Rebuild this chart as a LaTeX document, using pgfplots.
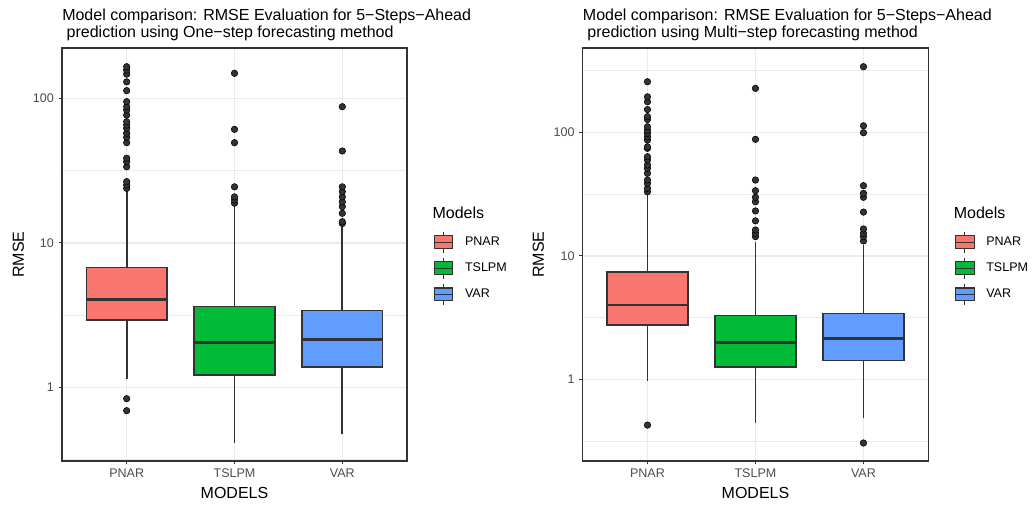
\documentclass[border=0pt]{standalone}
\usepackage{fontspec}
\setmainfont{Liberation Sans}
\usepackage{pgfplots}
\pgfplotsset{compat=1.18}
\definecolor{pnarc}{HTML}{F8766D}
\definecolor{tslpmc}{HTML}{00BA38}
\definecolor{varc}{HTML}{619CFF}
\definecolor{grey20}{HTML}{333333}
\definecolor{grey30}{HTML}{4D4D4D}
\definecolor{gridc}{HTML}{EBEBEB}

\pgfplotsset{every axis/.append style={
    scale only axis,
    clip=false,
    height=309.75pt,
    xmin=0.4, xmax=3.6,
    xtick={1,2,3}, xticklabels={PNAR,TSLPM,VAR},
    ytick={1,10,100}, yticklabels={1,10,100},
    minor ytick={0.316227766,3.16227766,31.6227766,316.227766},
    grid=both,
    major grid style={draw=gridc, line width=1.2pt},
    minor grid style={draw=gridc, line width=0.65pt},
    tick align=outside,
    xtick pos=bottom, ytick pos=left,
    major tick length=2.6pt, minor tick length=0pt,
    tick style={draw=grey20, line width=0.8pt},
    axis line style={draw=grey20, line width=0.9pt},
    ticklabel style={font=\fontsize{9.4}{11}\selectfont, text=grey30},
    xlabel={MODELS}, ylabel={RMSE},
    label style={font=\fontsize{12}{14}\selectfont, text=black},
    xlabel style={at={(axis description cs:0.5,-0.0768)}, anchor=center},
    title style={at={(axis description cs:0,1)}, anchor=base west, yshift=2pt, inner sep=0pt, align=left, font=\fontsize{12}{12.75}\selectfont},
    legend style={at={(axis description cs:1,0.5569)}, anchor=north west, xshift=20pt,
      draw=none, fill=none, inner sep=0pt, outer sep=0pt, row sep=2.75pt, column sep=8.7pt,
      font=\fontsize{9.4}{11}\selectfont, nodes={inner sep=0pt}},
    legend cell align=left,
  }}
\newcommand{\keyimg}[1]{%
  \draw[draw=grey20, line width=0.8pt] (7pt,-8pt)--(7pt,8pt);
  \draw[fill=#1, draw=grey20, line width=0.8pt] (0pt,-4.75pt) rectangle (14pt,4.75pt);
  \draw[draw=grey20, line width=0.8pt] (0pt,0pt)--(14pt,0pt);}
% left, centre, right, colour, lower whisker, lower quartile, median, upper quartile, upper whisker
\newcommand{\ggbox}[9]{%
  \addplot[forget plot, draw=grey20, line width=1.35pt] coordinates {(#2,#5) (#2,#6)};
  \addplot[forget plot, draw=grey20, line width=1.35pt] coordinates {(#2,#8) (#2,#9)};
  \addplot[forget plot, fill=#4, draw=grey20, line width=1.1pt] coordinates {(#1,#6) (#3,#6) (#3,#8) (#1,#8)} -- cycle;
  \addplot[forget plot, draw=grey20, line width=2.2pt] coordinates {(#1,#7) (#3,#7)};
}
\pgfplotsset{outl/.style={forget plot, only marks, mark=*, mark size=2.45pt, mark options={fill=grey20, draw=none}}}

\begin{document}
\begin{tikzpicture}
\useasboundingbox (0,0) rectangle (774pt,378pt);

% ---------------- Left panel ----------------
\begin{semilogyaxis}[
  at={(46.5pt,32.25pt)}, anchor=south west,
  width=258.75pt,
  ymin=0.309, ymax=223,
  ylabel style={at={(axis description cs:-0.1267,0.5)}, anchor=center},
  title={Model comparison: RMSE Evaluation for 5−Steps−Ahead\\\hspace*{0.278em}prediction using One−step forecasting method},
]
\ggbox{0.625}{1}{1.375}{pnarc}{1.15}{2.92}{4.06}{6.77}{23.2}
\ggbox{1.625}{2}{2.375}{tslpmc}{0.414}{1.22}{2.04}{3.61}{18.2}
\ggbox{2.625}{3}{3.375}{varc}{0.473}{1.38}{2.13}{3.39}{12.9}
\addplot[outl] coordinates {(1,0.834) (1,0.689) (1,23.8) (1,25.1) (1,26.5) (1,33.6) (1,36.4) (1,38.5) (1,49.3) (1,53.7) (1,57.3) (1,62) (1,65.3) (1,68.9) (1,76.6) (1,83) (1,87.5) (1,94.8) (1,113) (1,130) (1,147) (1,157) (1,165.5)};
\addplot[outl] coordinates {(2,18.8) (2,19.8) (2,20.8) (2,24.4) (2,49.3) (2,61) (2,149)};
\addplot[outl] coordinates {(3,13.6) (3,14) (3,16) (3,17.8) (3,19.2) (3,20.8) (3,22.6) (3,24.4) (3,43.2) (3,87.5)};
\addlegendimage{legend image code/.code={\keyimg{pnarc}}}\addlegendentry{PNAR}
\addlegendimage{legend image code/.code={\keyimg{tslpmc}}}\addlegendentry{TSLPM}
\addlegendimage{legend image code/.code={\keyimg{varc}}}\addlegendentry{VAR}
\node[anchor=west, inner sep=0pt, font=\fontsize{12}{14}\selectfont] at ([xshift=19pt]axis description cs:1,0.6005) {Models};
\end{semilogyaxis}

% ---------------- Right panel ----------------
\begin{semilogyaxis}[
  at={(437pt,32.25pt)}, anchor=south west,
  width=259.2pt,
  ymin=0.218, ymax=482,
  ylabel style={at={(axis description cs:-0.1285,0.5)}, anchor=center},
  title={Model comparison: RMSE Evaluation for 5−Steps−Ahead\\\hspace*{0.278em}prediction using Multi−step forecasting method},
]
\ggbox{0.625}{1}{1.375}{pnarc}{0.975}{2.75}{4.0}{7.39}{31.5}
\ggbox{1.625}{2}{2.375}{tslpmc}{0.44}{1.26}{2.0}{3.30}{13.0}
\ggbox{2.625}{3}{3.375}{varc}{0.483}{1.42}{2.15}{3.42}{12.2}
\addplot[outl] coordinates {(1,0.426) (1,33) (1,35.2) (1,38.6) (1,41.1) (1,46.6) (1,51.1) (1,54.4) (1,59.7) (1,63.5) (1,74.2) (1,76.4) (1,86.6) (1,92) (1,98) (1,104) (1,111) (1,127) (1,134) (1,153) (1,177) (1,194) (1,257)};
\addplot[outl] coordinates {(2,14.3) (2,15.2) (2,16.2) (2,19.2) (2,23.1) (2,27.4) (2,29.8) (2,33.7) (2,41.1) (2,87.8) (2,227)};
\addplot[outl] coordinates {(3,0.305) (3,13.2) (3,14.3) (3,15.2) (3,16.5) (3,22.6) (3,29.8) (3,32.1) (3,37) (3,99.3) (3,113) (3,340)};
\addlegendimage{legend image code/.code={\keyimg{pnarc}}}\addlegendentry{PNAR}
\addlegendimage{legend image code/.code={\keyimg{tslpmc}}}\addlegendentry{TSLPM}
\addlegendimage{legend image code/.code={\keyimg{varc}}}\addlegendentry{VAR}
\node[anchor=west, inner sep=0pt, font=\fontsize{12}{14}\selectfont] at ([xshift=19pt]axis description cs:1,0.6005) {Models};
\end{semilogyaxis}
\end{tikzpicture}
\end{document}
